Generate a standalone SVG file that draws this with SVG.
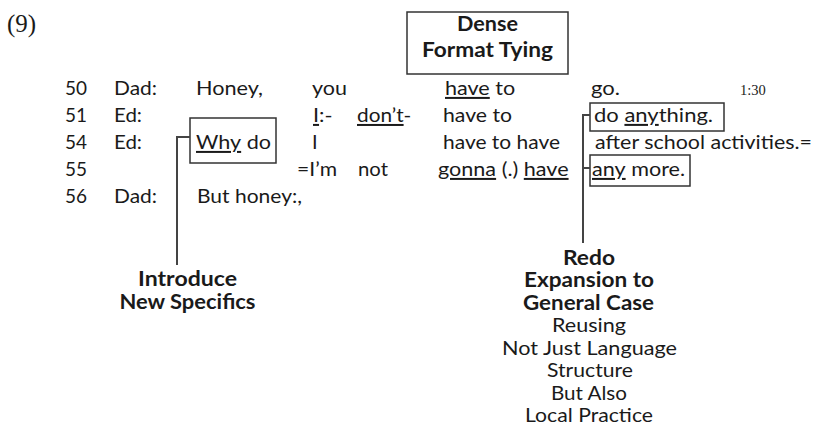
<svg xmlns="http://www.w3.org/2000/svg" width="814" height="425" viewBox="0 0 814 425">
<style>
text{font-family:"Lato","Noto Sans",sans-serif;font-size:20px;fill:#1a1a1a}
.b{font-weight:bold;font-size:20px}
.m{text-anchor:middle}
.u{text-decoration:underline;text-decoration-skip-ink:none}
.s{font-family:"Liberation Serif",serif}
.box{fill:none;stroke:#333;stroke-width:1.5}
.ln{fill:none;stroke:#444;stroke-width:2}
</style>
<rect width="814" height="425" fill="#fff"/>
<text class="s" x="7" y="32" style="font-size:25px">(9)</text>
<g id="transcript">
<text x="65" y="95" textLength="22" lengthAdjust="spacingAndGlyphs">50</text>
<text x="114" y="95" textLength="43" lengthAdjust="spacingAndGlyphs">Dad:</text>
<text x="196" y="95" textLength="67" lengthAdjust="spacingAndGlyphs">Honey,</text>
<text x="312" y="95" textLength="35" lengthAdjust="spacingAndGlyphs">you</text>
<text transform="translate(445,95) scale(1.08,1)"><tspan class="u">have</tspan> to</text>
<text x="591" y="95" textLength="29" lengthAdjust="spacingAndGlyphs">go.</text>
<text class="s" x="740" y="95" style="font-size:14.5px">1:30</text>
<text x="65" y="122" textLength="22" lengthAdjust="spacingAndGlyphs">51</text>
<text x="114" y="122" textLength="28" lengthAdjust="spacingAndGlyphs">Ed:</text>
<text transform="translate(313,122) scale(1.08,1)"><tspan class="u">I</tspan>:-</text>
<text transform="translate(357,122) scale(1.04,1)"><tspan class="u">don’t</tspan>-</text>
<text x="443" y="122" textLength="69" lengthAdjust="spacingAndGlyphs">have to</text>
<text x="65" y="149" textLength="22" lengthAdjust="spacingAndGlyphs">54</text>
<text x="114" y="149" textLength="28" lengthAdjust="spacingAndGlyphs">Ed:</text>
<text x="312" y="149">I</text>
<text x="443" y="149" textLength="117" lengthAdjust="spacingAndGlyphs">have to have</text>
<text x="595" y="149" textLength="217" lengthAdjust="spacingAndGlyphs">after school activities.=</text>
<text x="65" y="176" textLength="22" lengthAdjust="spacingAndGlyphs">55</text>
<text x="297" y="176" textLength="40" lengthAdjust="spacingAndGlyphs">=I’m</text>
<text x="358" y="176" textLength="30" lengthAdjust="spacingAndGlyphs">not</text>
<text transform="translate(438,176) scale(1.08,1)"><tspan class="u">gonna</tspan> (.) <tspan class="u">have</tspan></text>
<text x="65" y="203" textLength="22" lengthAdjust="spacingAndGlyphs">56</text>
<text x="114" y="203" textLength="43" lengthAdjust="spacingAndGlyphs">Dad:</text>
<text x="197" y="203" textLength="105" lengthAdjust="spacingAndGlyphs">But honey:,</text>
</g>
<g id="dense-format-tying">
<rect class="box" x="407" y="12" width="161" height="62"/>
<text class="b m" x="487.5" y="31" textLength="61" lengthAdjust="spacingAndGlyphs">Dense</text>
<text class="b m" x="487.5" y="57" textLength="131" lengthAdjust="spacingAndGlyphs">Format Tying</text>
</g>
<g id="why-do">
<rect class="box" x="190" y="118" width="86" height="45"/>
<text transform="translate(196,149) scale(1.08,1)"><tspan class="u">Why</tspan> do</text>
</g>
<g id="do-anything">
<rect class="box" x="590" y="103" width="134" height="28"/>
<text transform="translate(594,122) scale(1.1,1)">do <tspan class="u">any</tspan>thing.</text>
</g>
<g id="any-more">
<rect class="box" x="590" y="155" width="100" height="31"/>
<text transform="translate(592,176) scale(1.08,1)"><tspan class="u">any</tspan> more.</text>
</g>
<g id="introduce">
<text class="b m" x="187.5" y="286" textLength="99" lengthAdjust="spacingAndGlyphs">Introduce</text>
<text class="b m" x="187.5" y="309" textLength="136" lengthAdjust="spacingAndGlyphs">New Specifics</text>
</g>
<g id="redo">
<text class="b m" x="589" y="265" textLength="52" lengthAdjust="spacingAndGlyphs">Redo</text>
<text class="b m" x="589" y="287" textLength="130" lengthAdjust="spacingAndGlyphs">Expansion to</text>
<text class="b m" x="588.5" y="310" textLength="131" lengthAdjust="spacingAndGlyphs">General Case</text>
<text class="m" x="589" y="332" textLength="74" lengthAdjust="spacingAndGlyphs">Reusing</text>
<text class="m" x="589.5" y="354.5" textLength="175" lengthAdjust="spacingAndGlyphs">Not Just Language</text>
<text class="m" x="590" y="377" textLength="86" lengthAdjust="spacingAndGlyphs">Structure</text>
<text class="m" x="589" y="399.5" textLength="76" lengthAdjust="spacingAndGlyphs">But Also</text>
<text class="m" x="589" y="422" textLength="128" lengthAdjust="spacingAndGlyphs">Local Practice</text>
</g>
<g id="connectors">
<path class="ln" d="M190,137 H177 V265"/>
<path class="ln" d="M590,115 H583 V243 M583,168 H590"/>
</g>
</svg>
